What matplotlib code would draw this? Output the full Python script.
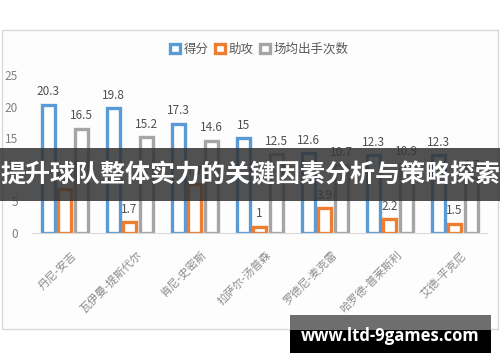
import matplotlib
matplotlib.use("Agg")
import matplotlib.pyplot as plt
from matplotlib.patches import Rectangle
import numpy as np

plt.rcParams['font.family'] = ['Noto Sans CJK SC', 'DejaVu Sans']

players = ["丹尼-安吉", "瓦伊曼-提斯代尔", "肯尼-史密斯", "拉萨尔-汤普森",
           "罗德尼-麦克雷", "哈罗德-普莱斯利", "艾德-平克尼"]
points = [20.3, 19.8, 17.3, 15, 12.6, 12.3, 12.3]
assists = [6.9, 1.7, 7.7, 1, 3.9, 2.2, 1.5]
shots = [16.5, 15.2, 14.6, 12.5, 10.7, 10.9, 8.7]
series_names = ["得分", "助攻", "场均出手次数"]
yticks = [0, 5, 10, 15, 20, 25]

colors = ["#5B9BD5", "#ED7D31", "#A5A5A5"]

fig = plt.figure(figsize=(5, 3.62), dpi=100)
fig.patch.set_facecolor("white")
# chart frame
fig.patches.append(Rectangle((2/500, 1-329/362), 496/500, 299/362, transform=fig.transFigure,
                             facecolor="#fdfdfe", edgecolor="#d9d9d9", lw=1, zorder=-5))

ax = fig.add_axes([32/500, 1-233/362, 455/500, (233-75)/362])
ax.set_facecolor("none")
x = np.arange(len(players))
w = 0.2
offs = [-0.25, 0.0, 0.26]
for vals, off, c, name in zip([points, assists, shots], offs, colors, series_names):
    ax.bar(x + off, vals, width=w, facecolor="white", edgecolor=c, linewidth=2.4, label=name)
    for xi, v in zip(x + off, vals):
        ax.text(xi, v + 1.0, f"{v:g}", ha="center", va="bottom", fontsize=8.5, color="#505050")

ax.set_ylim(0, 25)
ax.set_xlim(-0.5, len(players) - 0.5)
ax.set_yticks(yticks)
ax.set_xticks(x + 0.1)
ax.set_xticklabels(players, rotation=45, ha="right", rotation_mode="anchor", fontsize=8, color="#8c8c8c")
ax.tick_params(axis="y", labelsize=8.5, labelcolor="#808080", length=0, pad=10)
ax.tick_params(axis="x", length=0, pad=12)
for s in ["top", "right", "left"]:
    ax.spines[s].set_visible(False)
ax.spines["bottom"].set_color("#d9d9d9")

ax.legend(loc="upper center", bbox_to_anchor=(0.5, 1.275), ncol=3, frameon=False,
          fontsize=9, handlelength=0.8, handleheight=0.8, columnspacing=0.5,
          handletextpad=0.3, labelcolor="#595959")

# banner overlay
fig.patches.append(Rectangle((0, 1-201/362), 1, 53/362, transform=fig.transFigure,
                             facecolor="#333333", alpha=0.85, edgecolor="none", zorder=5))
fig.text(0.5, 1-175/362, "提升球队整体实力的关键因素分析与策略探索", ha="center", va="center",
         fontsize=18, fontweight="bold", color="white", zorder=6)

# watermark
fig.patches.append(Rectangle((290/500, 1-353/362), 201/500, 38/362, transform=fig.transFigure,
                             facecolor="black", edgecolor="none", zorder=5))
fig.patches.append(Rectangle((290/500, 1-330/362), 201/500, 15/362, transform=fig.transFigure,
                             facecolor="#6e6e6e", edgecolor="none", zorder=5))
fig.text(390/500, 1-336/362, "www.ltd-9games.com", ha="center", va="center",
         fontsize=12, fontweight="bold", color="white", family=["Open Sans", "DejaVu Sans"], zorder=6)

fig.savefig("out.png", dpi=100)
